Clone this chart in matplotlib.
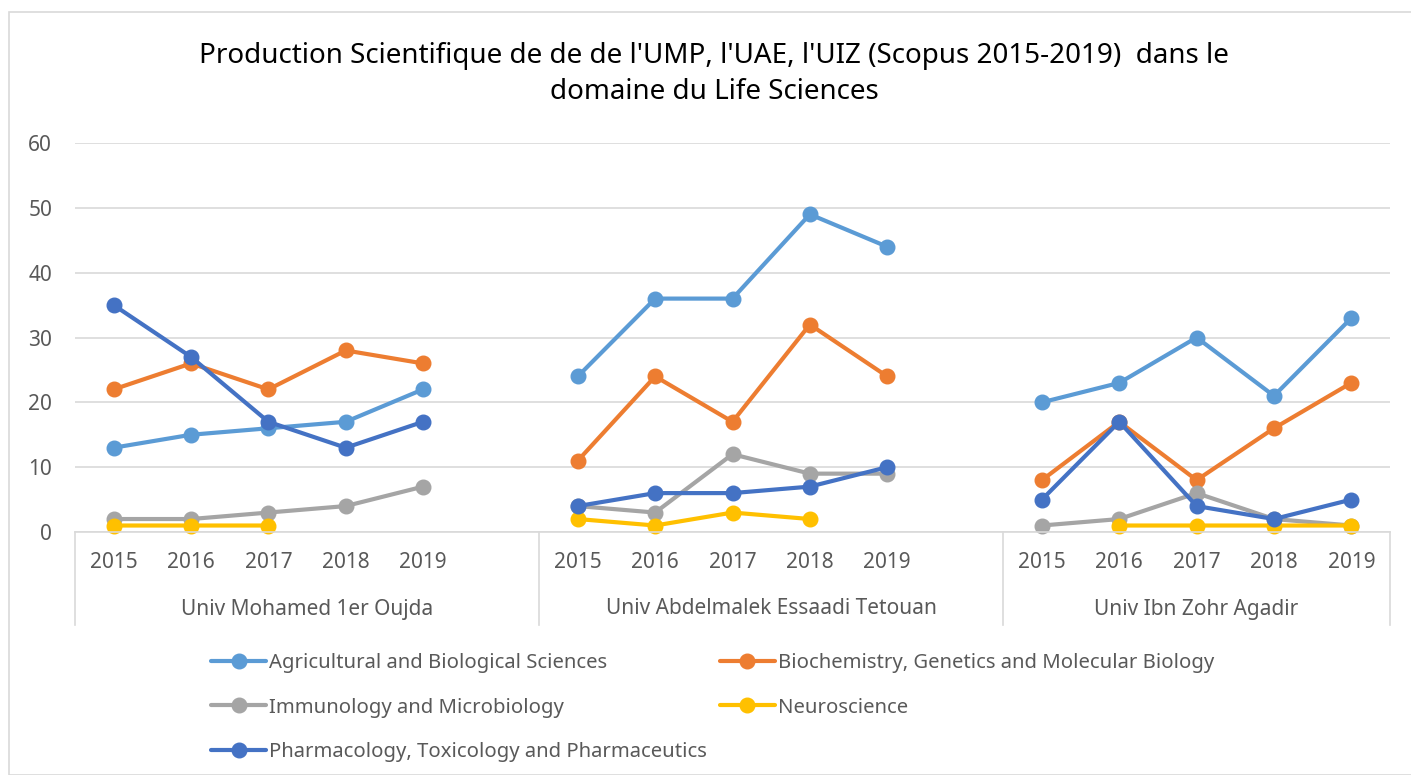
import numpy as np
import matplotlib.pyplot as plt
from matplotlib.patches import Rectangle
import matplotlib.transforms as mtransforms

plt.rcParams['font.family'] = ['Noto Sans', 'DejaVu Sans']

universities = ['Univ Mohamed 1er Oujda', 'Univ Abdelmalek Essaadi Tetouan', 'Univ Ibn Zohr Agadir']
years = ['2015', '2016', '2017', '2018', '2019']

# values per university, 2015-2019 (None = no publication)
agri = [[13, 15, 16, 17, 22], [24, 36, 36, 49, 44], [20, 23, 30, 21, 33]]
biochem = [[22, 26, 22, 28, 26], [11, 24, 17, 32, 24], [8, 17, 8, 16, 23]]
immuno = [[2, 2, 3, 4, 7], [4, 3, 12, 9, 9], [1, 2, 6, 2, 1]]
neuro = [[1, 1, 1, None, None], [2, 1, 3, 2, None], [None, 1, 1, 1, 1]]
pharma = [[35, 27, 17, 13, 17], [4, 6, 6, 7, 10], [5, 17, 4, 2, 5]]

series_names = ['Agricultural and Biological Sciences',
                'Biochemistry, Genetics and Molecular Biology',
                'Immunology and Microbiology',
                'Neuroscience',
                'Pharmacology, Toxicology and Pharmaceutics']
colors = ['#5B9BD5', '#ED7D31', '#A5A5A5', '#FFC000', '#4472C4']


def flatten(groups):
    # one empty slot between universities, like the excel chart
    out = []
    for i, g in enumerate(groups):
        out += [np.nan if v is None else v for v in g]
        if i < len(groups) - 1:
            out.append(np.nan)
    return np.array(out, dtype=float)


W, H = 1411, 775
fig = plt.figure(figsize=(W / 100, H / 100), dpi=100)
fig.patches.append(Rectangle((9 / W, 0), 1.2, 1 - 12 / H, transform=fig.transFigure,
                             fill=False, edgecolor='#D9D9D9', linewidth=1.2))

ax = fig.add_axes([75 / W, (H - 532) / H, (1390 - 75) / W, (532 - 143) / H])

handles = []
for name, data, c in zip(series_names, [agri, biochem, immuno, neuro, pharma], colors):
    y = flatten(data)
    x = np.arange(len(y))
    h, = ax.plot(x, y, color=c, lw=3, marker='o', markersize=10.5, label=name,
                 solid_capstyle='round', clip_on=False)
    handles.append(h)

n = 17
ax.set_xlim(-0.5, n - 0.5)
ax.set_ylim(0, 60)
ax.set_yticks(range(0, 61, 10))
ax.yaxis.grid(True, color='#D9D9D9', lw=1.2)
ax.set_axisbelow(True)
for s in ['top', 'right', 'left']:
    ax.spines[s].set_visible(False)
ax.spines['bottom'].set_color('#D9D9D9')
ax.spines['bottom'].set_linewidth(1.2)
ax.tick_params(axis='y', length=0, pad=16.5, labelsize=15, labelcolor='#595959')
ax.set_xticks([])

trans = mtransforms.blended_transform_factory(ax.transData, ax.transAxes)
axh = 532 - 143
pos = 0
for gi, uni in enumerate(universities):
    for j, yr in enumerate(years):
        ax.text(pos + j, -(563 - 532) / axh, yr, transform=trans, ha='center', va='center',
                fontsize=15, color='#595959')
    span = 6 if gi < 2 else 5
    ax.text(pos + (span - 1) / 2, -(609 - 532) / axh, uni, transform=trans, ha='center',
            va='center', fontsize=15, color='#595959')
    pos += 6
for b in [-0.5, 5.5, 11.5, 16.5]:
    ax.plot([b, b], [0, -(625 - 532) / axh], transform=trans, color='#D9D9D9', lw=1.2,
            clip_on=False)

fig.text(714 / W, 1 - 74 / H,
         "Production Scientifique de de de l'UMP, l'UAE, l'UIZ (Scopus 2015-2019)  dans le\ndomaine du Life Sciences",
         ha='center', va='center', fontsize=20, color='#000000', linespacing=1.35)

order = [0, 2, 4, 1, 3]
fig.legend([handles[i] for i in order], [series_names[i] for i in order],
           ncol=2, loc='upper left', bbox_to_anchor=(193 / W, 1 - 635 / H),
           frameon=False, fontsize=14.6, labelcolor='#595959', handlelength=2.7,
           handletextpad=0.15, columnspacing=0.65, labelspacing=1.2)

fig.savefig('out.png', dpi=100)
